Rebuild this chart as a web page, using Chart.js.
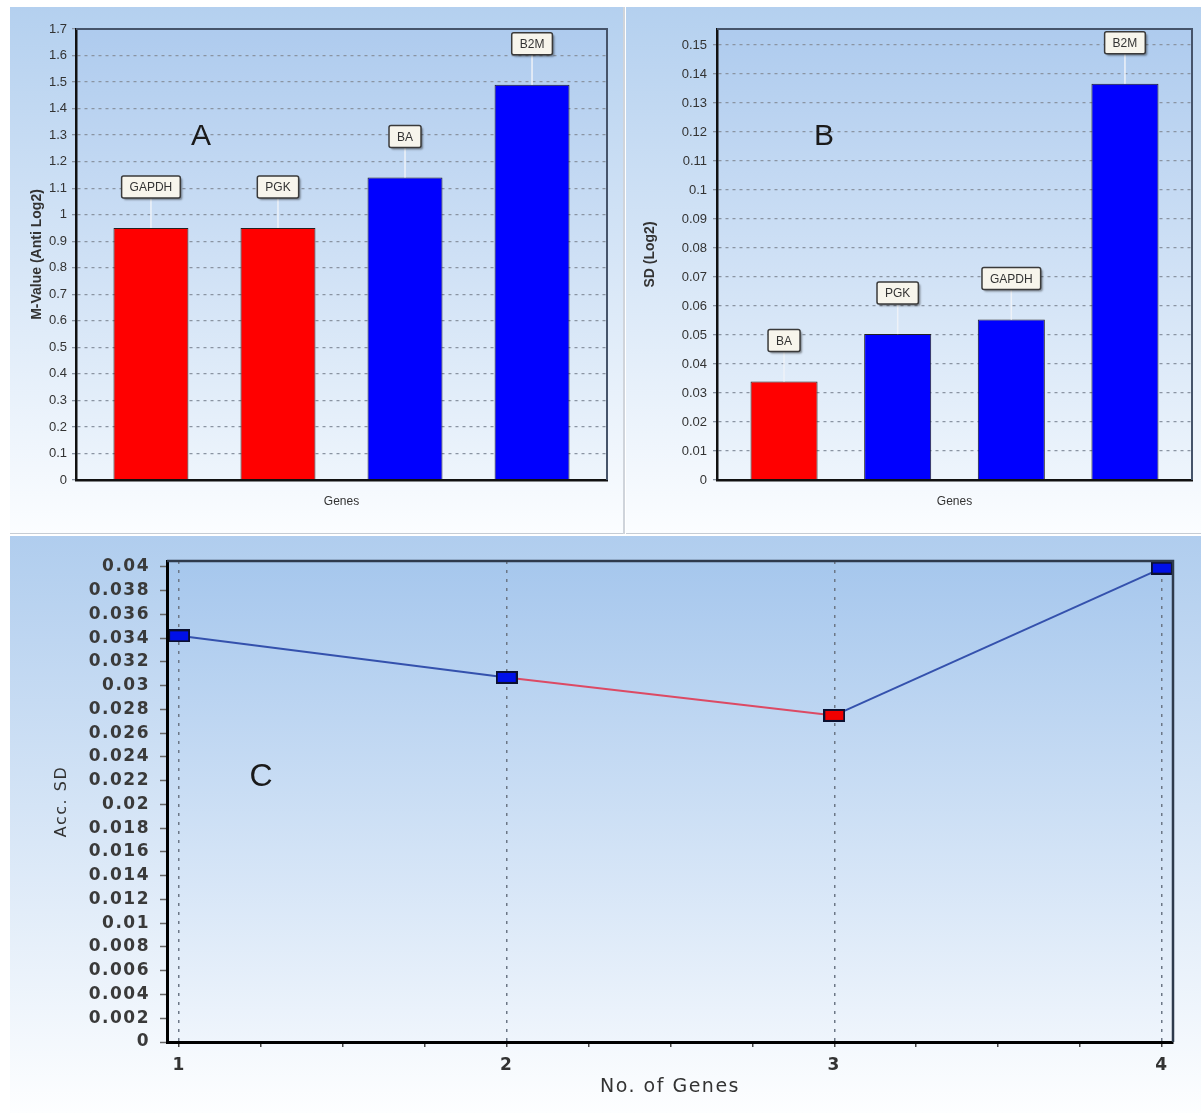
<!DOCTYPE html>
<html>
<head>
<meta charset="utf-8">
<script src="https://cdn.jsdelivr.net/npm/chart.js@4/dist/chart.umd.min.js"></script>
<style>
    body { margin: 0; background: #fff; width: 1201px; height: 1117px; position: relative; overflow: hidden; }
    .panel { position: absolute; border-bottom: 1px solid #c6ccd4; }
    #panelA { left: 10px; top: 7px; width: 613px; height: 526px; }
    #panelB { left: 626px; top: 7px; width: 575px; height: 526px; }
    #panelC { left: 10px; top: 536px; width: 1191px; height: 577px; border-bottom: none; }
    #divider { position: absolute; left: 623px; top: 7px; width: 2px; height: 527px; background: #cfd4db; }
    canvas { display: block; }
</style>
</head>
<body>
<div class="panel" id="panelA"><canvas id="chartA" width="613" height="526"></canvas></div>
<div id="divider"></div>
<div class="panel" id="panelB"><canvas id="chartB" width="575" height="526"></canvas></div>
<div class="panel" id="panelC"><canvas id="chartC" width="1191" height="577"></canvas></div>
<script>
// Panel A - average expression stability (M-value)
const genesA = ['GAPDH', 'PGK', 'BA', 'B2M'];
const mValues = [0.95, 0.95, 1.14, 1.49];
const stableA = [true, true, false, false];
const yTicksA = [0, 0.1, 0.2, 0.3, 0.4, 0.5, 0.6, 0.7, 0.8, 0.9, 1, 1.1, 1.2, 1.3, 1.4, 1.5, 1.6, 1.7];

// Panel B - standard deviation
const genesB = ['BA', 'PGK', 'GAPDH', 'B2M'];
const sdValues = [0.034, 0.0503, 0.0553, 0.1366];
const stableB = [true, false, false, false];
const yTicksB = [0, 0.01, 0.02, 0.03, 0.04, 0.05, 0.06, 0.07, 0.08, 0.09, 0.1, 0.11, 0.12, 0.13, 0.14, 0.15];

// Panel C - accumulated SD by number of genes
const nGenes = [1, 2, 3, 4];
const accSD = [0.0342, 0.0307, 0.0275, 0.0399];
const bestC = [false, false, true, false];
const xTicksC = [1, 1.25, 1.5, 1.75, 2, 2.25, 2.5, 2.75, 3, 3.25, 3.5, 3.75, 4];
const yTicksC = [0, 0.002, 0.004, 0.006, 0.008, 0.01, 0.012, 0.014, 0.016, 0.018, 0.02,
    0.022, 0.024, 0.026, 0.028, 0.03, 0.032, 0.034, 0.036, 0.038, 0.04];

const RED = '#ff0000';
const BLUE = '#0000ff';
const SANS = '"Liberation Sans", Arial, sans-serif';
const WIDE = '"DejaVu Sans", Verdana, sans-serif';
const fmt = v => String(+Number(v).toFixed(4));

// gradient backgrounds, frame and the big panel letter
const panelBg = {
    id: 'panelBg',
    beforeDraw(chart, args, opts) {
        const { ctx, width, height, chartArea: a } = chart;
        ctx.save();
        let g = ctx.createLinearGradient(0, 0, 0, height);
        g.addColorStop(0, opts.top);
        g.addColorStop(1, opts.bottom);
        ctx.fillStyle = g;
        ctx.fillRect(0, 0, width, height);
        g = ctx.createLinearGradient(0, a.top, 0, a.bottom);
        g.addColorStop(0, opts.areaTop);
        g.addColorStop(1, opts.areaBottom);
        ctx.fillStyle = g;
        ctx.fillRect(a.left, a.top, a.width, a.height);
        ctx.restore();
        if (opts.spacing) ctx.letterSpacing = opts.spacing;
    },
    beforeUpdate(chart, args, opts) {
        if (opts.spacing) chart.ctx.letterSpacing = opts.spacing;
    },
    afterDraw(chart, args, opts) {
        const { ctx, chartArea: a } = chart;
        ctx.save();
        ctx.strokeStyle = opts.frame;
        ctx.lineWidth = opts.frameWidth;
        ctx.beginPath();
        ctx.moveTo(a.left, a.top);
        ctx.lineTo(a.right, a.top);
        ctx.lineTo(a.right, a.bottom);
        ctx.stroke();
        ctx.letterSpacing = '0px';
        ctx.fillStyle = '#1a1a1a';
        ctx.font = opts.letterFont;
        ctx.textAlign = 'center';
        ctx.textBaseline = 'middle';
        ctx.fillText(opts.letter, opts.letterX, opts.letterY);
        ctx.restore();
    }
};

// boxed gene names above the bars
const geneTags = {
    id: 'geneTags',
    afterDatasetsDraw(chart, args, opts) {
        const { ctx } = chart;
        const meta = chart.getDatasetMeta(0);
        ctx.save();
        ctx.font = '12px ' + SANS;
        ctx.textAlign = 'center';
        ctx.textBaseline = 'middle';
        meta.data.forEach((bar, i) => {
            const text = opts.labels[i];
            const cy = bar.y - 41;
            const w = ctx.measureText(text).width + 16;
            const h = 22;
            ctx.strokeStyle = '#eef2f8';
            ctx.lineWidth = 1.5;
            ctx.beginPath();
            ctx.moveTo(bar.x, bar.y);
            ctx.lineTo(bar.x, cy + h / 2);
            ctx.stroke();
            ctx.shadowColor = 'rgba(0,0,0,0.4)';
            ctx.shadowOffsetX = 2;
            ctx.shadowOffsetY = 2;
            ctx.shadowBlur = 2;
            ctx.fillStyle = '#f7f5ec';
            ctx.beginPath();
            ctx.roundRect(bar.x - w / 2, cy - h / 2, w, h, 2);
            ctx.fill();
            ctx.shadowColor = 'transparent';
            ctx.strokeStyle = '#3a3a3a';
            ctx.lineWidth = 1.5;
            ctx.stroke();
            ctx.fillStyle = '#333';
            ctx.fillText(text, bar.x, cy + 1);
        });
        ctx.restore();
    }
};

function barChart(id, genes, values, stable, yTicks, yMax, yTitle, box, letter) {
    new Chart(document.getElementById(id), {
        type: 'bar',
        data: {
            datasets: [{
                data: values.map((v, i) => ({ x: i + 1, y: v })),
                backgroundColor: stable.map(s => s ? RED : BLUE),
                borderColor: '#222',
                borderWidth: 1,
                barPercentage: 0.59,
                categoryPercentage: 1
            }]
        },
        options: {
            responsive: false,
            animation: false,
            layout: { padding: { top: 22, right: box.right, left: 0, bottom: 0 } },
            plugins: {
                legend: { display: false },
                tooltip: { enabled: false },
                panelBg: {
                    top: '#b4d0ef', bottom: '#fbfdff',
                    areaTop: '#aecbee', areaBottom: '#eef5fc',
                    frame: '#46546a', frameWidth: 2,
                    letter: letter.text, letterX: letter.x, letterY: letter.y,
                    letterFont: '30px ' + SANS
                },
                geneTags: { labels: genes }
            },
            scales: {
                x: {
                    type: 'linear',
                    offset: false,
                    min: 0.41,
                    max: 4.59,
                    afterBuildTicks: ax => { ax.ticks = genes.map((g, i) => ({ value: i + 1 })); },
                    afterFit: ax => { ax.height = 53; },
                    ticks: { display: false },
                    grid: { display: false, offset: false },
                    border: { color: '#111', width: 2.5, z: 1 },
                    title: {
                        display: true, text: 'Genes', color: '#333',
                        font: { family: SANS, size: 12 },
                        padding: { top: 0, bottom: 24 }
                    }
                },
                y: {
                    min: 0,
                    max: yMax,
                    afterBuildTicks: ax => { ax.ticks = yTicks.map(v => ({ value: v })); },
                    afterFit: ax => { ax.width = box.left; },
                    ticks: {
                        callback: v => fmt(v),
                        color: '#333',
                        font: { family: SANS, size: 13 },
                        padding: box.tickPad
                    },
                    grid: { color: '#8a94a2', lineWidth: 1.3, tickLength: 4 },
                    border: { color: '#111', width: 2.5, dash: [3, 4], z: 1 },
                    title: {
                        display: true, text: yTitle, color: '#333',
                        font: { family: SANS, size: 14, weight: 'bold' },
                        padding: { top: box.titlePad, bottom: 0 }
                    }
                }
            }
        },
        plugins: [panelBg, geneTags]
    });
}

barChart('chartA', genesA, mValues, stableA, yTicksA, 1.7, 'M-Value (Anti Log2)',
    { left: 66, right: 16, tickPad: 5, titlePad: 19 }, { text: 'A', x: 191, y: 130 });
barChart('chartB', genesB, sdValues, stableB, yTicksB, 0.1555, 'SD (Log2)',
    { left: 91, right: 9, tickPad: 6, titlePad: 16 }, { text: 'B', x: 198, y: 130 });

// rectangular point markers
function makeMarker(fill) {
    const c = document.createElement('canvas');
    c.width = 22;
    c.height = 13;
    const g = c.getContext('2d');
    g.fillStyle = '#0b1030';
    g.fillRect(0, 0, 22, 13);
    g.fillStyle = fill;
    g.fillRect(2, 2, 18, 9);
    return c;
}
const blueMarker = makeMarker('#0010e8');
const redMarker = makeMarker('#f00000');

new Chart(document.getElementById('chartC'), {
    type: 'line',
    data: {
        datasets: [{
            data: nGenes.map((n, i) => ({ x: n, y: accSD[i] })),
            borderColor: '#3451ad',
            borderWidth: 2,
            tension: 0,
            clip: false,
            segment: { borderColor: s => bestC[s.p1DataIndex] ? '#dc4a64' : '#3451ad' },
            pointStyle: c => bestC[c.dataIndex] ? redMarker : blueMarker
        }]
    },
    options: {
        responsive: false,
        animation: false,
        layout: { padding: { top: 25, right: 28, left: 0, bottom: 0 } },
        plugins: {
            legend: { display: false },
            tooltip: { enabled: false },
            panelBg: {
                top: '#b0cdee', bottom: '#fdfeff',
                areaTop: '#a6c7ed', areaBottom: '#eff5fc',
                frame: '#2e3a4c', frameWidth: 2.5,
                letter: 'C', letterX: 251, letterY: 241,
                letterFont: '32px ' + SANS,
                spacing: '1.5px'
            }
        },
        scales: {
            x: {
                type: 'linear',
                min: 0.963,
                max: 4.034,
                afterBuildTicks: ax => { ax.ticks = xTicksC.map(v => ({ value: v })); },
                afterFit: ax => { ax.height = 71; },
                ticks: {
                    callback: v => Number.isInteger(v) ? String(v) : '',
                    autoSkip: false,
                    maxRotation: 0,
                    color: '#333',
                    font: { family: WIDE, size: 17, weight: 'bold' },
                    padding: 8
                },
                grid: {
                    color: c => Number.isInteger(c.tick.value) ? '#6c7786' : 'rgba(0,0,0,0)',
                    lineWidth: 1.5,
                    tickColor: '#444',
                    tickWidth: 1.5,
                    tickLength: 5
                },
                border: { color: '#000', width: 3, dash: [3, 6], z: 1 },
                title: {
                    display: true, text: 'No. of Genes', color: '#333',
                    font: { family: WIDE, size: 19 },
                    padding: { top: 0, bottom: 15 }
                }
            },
            y: {
                min: 0,
                max: 0.0405,
                afterBuildTicks: ax => { ax.ticks = yTicksC.map(v => ({ value: v })); },
                afterFit: ax => { ax.width = 157; },
                ticks: {
                    callback: v => fmt(v),
                    color: '#3a3a3a',
                    font: { family: WIDE, size: 17, weight: 'bold' },
                    padding: 10
                },
                grid: { drawOnChartArea: false, tickLength: 7, tickColor: '#666', tickWidth: 1.5 },
                border: { color: '#000', width: 3, z: 1 },
                title: {
                    display: true, text: 'Acc. SD', color: '#333',
                    font: { family: WIDE, size: 16 },
                    padding: { top: 42, bottom: 0 }
                }
            }
        }
    },
    plugins: [panelBg]
});
</script>
</body>
</html>
